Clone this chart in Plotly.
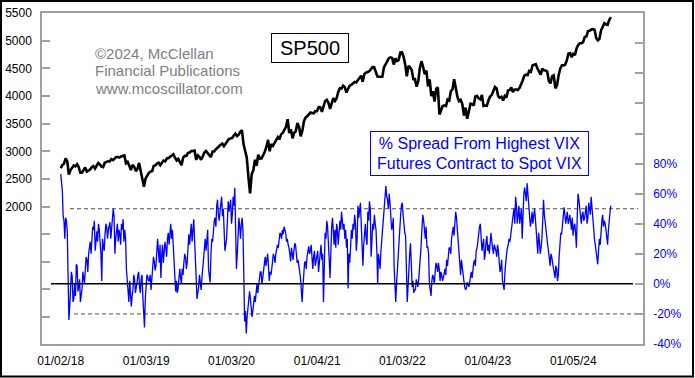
import pandas as pd
import plotly.graph_objects as go

# ---------------- data ----------------
# S&P 500 weekly closes, 52 per year (quarters of 13), 2018 .. mid-2024
sp500_2018 = [2695, 2751, 2776, 2872, 2822, 2581, 2662, 2716, 2744, 2728, 2765, 2717, 2612,
              2614, 2656, 2706, 2634, 2654, 2671, 2711, 2733, 2689, 2748, 2787, 2762, 2723,
              2713, 2793, 2809, 2820, 2816, 2858, 2839, 2862, 2897, 2896, 2887, 2907, 2915,
              2924, 2785, 2809, 2740, 2660, 2755, 2722, 2641, 2682, 2790, 2636, 2546, 2360]
sp500_2019 = [2510, 2575, 2610, 2633, 2640, 2737, 2745, 2780, 2794, 2750, 2792, 2832, 2818,
              2867, 2879, 2907, 2933, 2946, 2884, 2834, 2864, 2802, 2750, 2886, 2917, 2917,
              2973, 2979, 3004, 3005, 3013, 2844, 2926, 2900, 2847, 2906, 2979, 3006, 2966,
              2940, 2893, 2995, 2996, 3036, 3074, 3091, 3120, 3140, 3093, 3132, 3192, 3223]
sp500_2020 = [3230, 3240, 3285, 3320, 3275, 3300, 3355, 3385, 3130, 3000, 2880, 2530, 2240,
              2585, 2659, 2846, 2737, 2939, 2868, 2870, 2922, 2992, 3080, 3207, 3002, 3131,
              3100, 3145, 3197, 3257, 3218, 3306, 3333, 3390, 3443, 3580, 3331, 3401, 3236,
              3335, 3361, 3512, 3443, 3270, 3369, 3545, 3610, 3635, 3662, 3702, 3695, 3687]
sp500_2021 = [3727, 3726, 3801, 3799, 3714, 3826, 3911, 3932, 3881, 3768, 3875, 3962, 3910,
              3959, 4073, 4141, 4135, 4187, 4164, 4063, 4128, 4188, 4202, 4227, 4255, 4246,
              4291, 4343, 4369, 4258, 4401, 4423, 4436, 4448, 4486, 4523, 4520, 4443, 4354,
              4352, 4345, 4350, 4520, 4575, 4630, 4685, 4700, 4690, 4570, 4685, 4635, 4650]
sp500_2022 = [4786, 4793, 4713, 4577, 4357, 4546, 4521, 4471, 4305, 4306, 4170, 4262, 4512,
              4631, 4525, 4397, 4462, 4175, 4300, 4001, 4088, 3901, 4132, 4160, 3667, 3765,
              3821, 3831, 3819, 3937, 3921, 4091, 4122, 4305, 4128, 3986, 3908, 3932, 3855,
              3647, 3791, 3588, 3720, 3860, 3856, 3828, 3991, 4003, 3958, 3941, 4019, 3822]
sp500_2023 = [3829, 3824, 3919, 3990, 4017, 4077, 4164, 4136, 3997, 3970, 3986, 3920, 4002,
              3971, 4100, 4108, 4154, 4071, 4119, 4119, 4109, 4145, 4205, 4283, 4369, 4388,
              4378, 4455, 4439, 4555, 4567, 4576, 4499, 4437, 4388, 4497, 4465, 4461, 4443,
              4274, 4229, 4358, 4374, 4140, 4194, 4378, 4496, 4557, 4555, 4568, 4644, 4768]
sp500_2024 = [4775, 4700, 4780, 4740, 4865, 4925, 4955, 4955, 4975, 5070, 5080, 5175, 5180,
              5205, 5210, 5200, 5050, 5010, 5035, 5190, 5250, 5320, 5300, 5290, 5375, 5430]
sp500 = sp500_2018 + sp500_2019 + sp500_2020 + sp500_2021 + sp500_2022 + sp500_2023 + sp500_2024

# % spread from highest VIX futures contract to spot VIX: readings at each week
vix_weekly = [
    73, 62, 42, 44, 35, -24, -5, 5, -10, -8,
    12, -2, -12, -3, 4, 10, 16, 20, 28, 33,
    36, 22, 35, 40, 30, 2, 25, 33, 38, 36,
    41, 37, 50, 20, 36, 28, 33, 40, 43, 36,
    10, -8, 2, -15, -4, 3, -3, 6, -2, 3,
    -8, -29, 0, 5, 2, -4, 8, 15, 12, 30,
    14, 4, 26, 20, 24, 30, 26, 40, 36, 18,
    -5, -6, 8, 4, 10, 14, 18, 14, 33, 36,
    28, 43, 15, -10, -2, 2, 4, 20, 30, 33,
    10, 1, 30, 37, 44, 52, 46, 48, 58, 50,
    22, 30, 55, 52, 40, 58, 64, 10, 30, 38,
    40, 35, -25, -33, -15, -5, -20, -18, -8, -3,
    -6, 3, 8, 4, 14, 12, 20, 2, 6, 14,
    18, 20, 26, 30, 33, 36, 38, 34, 30, 24,
    15, 20, 22, 26, 14, 10, 4, -12, 8, 15,
    18, 25, 22, 16, 18, 12, 20, 8, 22, 16,
    -12, 34, 42, 30, 4, 38, 30, 36, 40, 26,
    42, 48, 36, 30, 24, -3, 14, 36, 40, 46,
    22, 52, 50, 40, 12, 34, 30, 48, 55, 18,
    40, 46, 36, 0, 16, 22, 34, 52, 65, 56,
    60, 44, 38, 12, -12, 10, 30, 46, 54, 38,
    32, -12, 12, 27, -2, -6, -4, 0, 3, 18,
    38, 42, 30, 24, 20, -6, 2, 4, 8, 12,
    14, 2, 6, 4, 10, 16, 20, 24, 30, 38,
    46, 44, 26, 12, 16, 6, -2, -3, 0, 1,
    8, 12, 16, 22, 28, 38, 30, 26, 16, 28,
    22, 20, 34, 24, 26, 22, 26, 14, 10, 2,
    -4, 16, 24, 30, 32, 42, 50, 58, 40, 52,
    45, 30, 60, 58, 67, 52, 38, 48, 46, 44,
    28, 34, 20, 30, 56, 40, 32, 22, 12, 18,
    10, 4, 10, 6, 28, 33, 48, 46, 44, 40,
    46, 36, 32, 40, 24, 60, 50, 40, 48, 44,
    52, 44, 50, 58, 40, 30, 22, 13, 30, 36,
    46, 42, 36, 26, 44, 52,
]
# readings half-way between consecutive weeks
vix_midweek = [
    68, 45, 30, 42, 5, -15, 8, -12, 0, 13, -5, 3, -8, 8, 0, 18, 8, 26, 20, 38,
    42, 30, 28, 36, 20, 30, 22, 40, 30, 38, 30, 44, 45, 30, 40, 36, 26, 36, 28, 30,
    0, -12, -5, -8, 6, -6, 1, 8, -6, 6, -18, -10, 6, 2,
    6, 2, 18, 9, 20, 22, 26, 18, 14, 28, 18, 34, 33, 30, 26, 6, 2, -3, 10, 0,
    6, 20, 10, 24, 26, 40, 34, 30, 4, -6, 6, -4, 12, 26, 22, 36, 4, 20, 28, 42,
    38, 56, 42, 54, 45, 36, 26, 42, 48, 56, 46, 52, 40, 20, 44, 30,
    44, 5, -18, -22, -12, -10, -22, -12, -12, 0, -2, 8, 0, 10, 18, 16, 12, 8, 10, 20,
    14, 24, 24, 34, 30, 33, 36, 28, 26, 20, 24, 16, 27, 20, 16, 8, -4, -2, 14, 10,
    22, 20, 26, 10, 22, 16, 22, 14, 26, 20, 24, 30, 38, 16, 26, 44, 26,
    24, 36, 34, 36, 42, 40, 36, 30, 20, 24, 30, 36, 40, 30, 44, 54, 30, 26, 40, 26,
    42, 50, 30, 36, 40, 22, 20, 10, 30, 40, 58, 58, 50, 54, 36, 44, 2, 0, 22, 38,
    52, 46, 34, 14, -2, 20, 10, 2, -4, 3, -2, 10, 26, 46, 36, 38,
    25, 0, -8, 6, 0, 14, 8, 10, 8, 2, 8, 6, 12, 24, 20, 34, 32, 48, 36, 20,
    6, 10, 2, -4, 1, -2, 4, 4, 14, 12, 24, 34, 40, 22, 30, 20, 32, 26, 26, 28,
    20, 24, 18, 22, 8, 16, -2, 8, 20, 26, 28, 38, 46, 40, 52, 46, 40,
    50, 50, 64, 55, 60, 44, 42, 40, 50, 38, 20, 28, 24, 42, 46, 36, 26, 16, 20, 14,
    8, 12, 2, 18, 34, 40, 51, 40, 48, 42, 40, 44, 38, 34, 44, 56, 44, 46, 42, 48,
    40, 54, 46, 50, 34, 26, 18, 22, 26, 42, 38, 40, 28, 36, 48,
]

start_date, end_date = "2018-01-02", "2024-06-14"

date_ticks = ["2018-01-02", "2019-01-03", "2020-01-03", "2021-01-04",
              "2022-01-03", "2023-01-04", "2024-01-05"]
date_labels = ["01/02/18", "01/03/19", "01/03/20", "01/04/21",
               "01/03/22", "01/04/23", "01/05/24"]

left_ticks = list(range(0, 5501, 500))
left_labels = [str(v) if v >= 2000 else "" for v in left_ticks]
right_ticks = list(range(-40, 181, 20))
right_labels = [f"{v}%" if v <= 80 else "" for v in right_ticks]

zero_level = 0
dashed_levels = [50, -20]

# interleave weekly and mid-week readings into one series
vix_spread = []
for i, v in enumerate(vix_weekly):
    vix_spread.append(v)
    if i < len(vix_midweek) and i < len(vix_weekly) - 1:
        vix_spread.append(vix_midweek[i])

# ---------------- layout geometry (pixels) ----------------
W, H = 695, 378
PL, PR, PT, PB = 42, 643, 13, 344


def px(x):
    return (x - PL) / (PR - PL)


def py(y):
    return (PB - y) / (PB - PT)


FONT = "Arial, 'Liberation Sans', sans-serif"
BLUE = "#0000ff"
GRAY = "#a0a0a0"

sp_dates = pd.date_range(start_date, end_date, periods=len(sp500))
vx_dates = pd.date_range(start_date, end_date, periods=len(vix_spread))

fig = go.Figure()
fig.add_trace(go.Scatter(x=vx_dates, y=vix_spread, yaxis="y2", mode="lines",
                         line=dict(color=BLUE, width=1.3), hoverinfo="skip"))
fig.add_trace(go.Scatter(x=sp_dates, y=sp500, mode="lines",
                         line=dict(color="black", width=2.6), hoverinfo="skip"))

t0 = pd.Timestamp(start_date)
px_per_day = 85.33 / 365.25
x_lo = t0 - pd.Timedelta(days=(60.7 - PL) / px_per_day)
x_hi = t0 + pd.Timedelta(days=(PR - 60.7) / px_per_day)

shapes = []
shapes.append(dict(type="line", xref="paper", yref="y2", x0=px(51), x1=px(633),
                   y0=zero_level, y1=zero_level, line=dict(color="black", width=1.5),
                   layer="above"))
for lvl, xs in zip(dashed_levels, [70, 74]):
    shapes.append(dict(type="line", xref="paper", yref="y2", x0=px(xs), x1=px(638),
                       y0=lvl, y1=lvl, line=dict(color="#505050", width=1, dash="4px,3px"),
                       layer="below"))
shapes.append(dict(type="rect", xref="paper", yref="paper", x0=px(1), x1=px(693),
                   y0=py(376.5), y1=py(1), line=dict(color="black", width=2)))

annotations = []
for txt, yc in zip(["\u00a92024, McClellan", "Financial Publications", "www.mcoscillator.com"],
                   [53.5, 70.7, 88]):
    annotations.append(dict(text=txt, xref="paper", yref="paper", x=px(92.5), y=py(yc),
                            xanchor="left", yanchor="middle", showarrow=False,
                            font=dict(family=FONT, size=15, color="#808080")))
annotations.append(dict(text="SP500", xref="paper", yref="paper", x=px(309.5), y=py(47.7),
                        xanchor="center", yanchor="middle", showarrow=False,
                        font=dict(family=FONT, size=20, color="black"),
                        bgcolor="white", bordercolor="black", borderwidth=1, borderpad=3,
                        width=70, height=22))
annotations.append(dict(text="% Spread From Highest VIX<br>Futures Contract to Spot VIX",
                        xref="paper", yref="paper", x=px(479.8), y=py(153.3),
                        xanchor="center", yanchor="middle", showarrow=False, align="center",
                        font=dict(family=FONT, size=16, color=BLUE),
                        bgcolor="white", bordercolor=BLUE, borderwidth=1, borderpad=3,
                        width=211, height=37))

fig.update_layout(
    width=W, height=H,
    margin=dict(l=PL, r=W - PR, t=PT, b=H - PB, pad=0, autoexpand=False),
    paper_bgcolor="white", plot_bgcolor="white",
    showlegend=False,
    font=dict(family=FONT, size=12, color="black"),
    xaxis=dict(type="date", range=[x_lo, x_hi], tickvals=date_ticks, ticktext=date_labels,
               ticks="", showgrid=False, zeroline=False, showline=True, linecolor=GRAY,
               linewidth=1.5, mirror=True, ticklabelstandoff=5, automargin=False,
               tickfont=dict(family=FONT, size=12, color="black")),
    yaxis=dict(range=[-487, 5503], tickvals=left_ticks, ticktext=left_labels,
               ticks="inside", ticklen=8, tickcolor=GRAY, tickwidth=1.5, automargin=False,
               showgrid=False, zeroline=False, showline=True, linecolor=GRAY, linewidth=1.5,
               ticklabelstandoff=6, tickfont=dict(family=FONT, size=12, color="black")),
    yaxis2=dict(range=[-40, 180.2], overlaying="y", side="right", tickvals=right_ticks,
                ticktext=right_labels, ticks="inside", ticklen=8, tickcolor=GRAY,
                tickwidth=1.5, showgrid=False, zeroline=False, showline=True, automargin=False,
                linecolor=GRAY, linewidth=1.5, ticklabelstandoff=6,
                tickfont=dict(family=FONT, size=12, color=BLUE)),
    shapes=shapes,
    annotations=annotations,
)

fig.write_html("out.html", config={"displayModeBar": False},
               post_script="document.body.style.margin='0';document.body.style.overflow='hidden';")
